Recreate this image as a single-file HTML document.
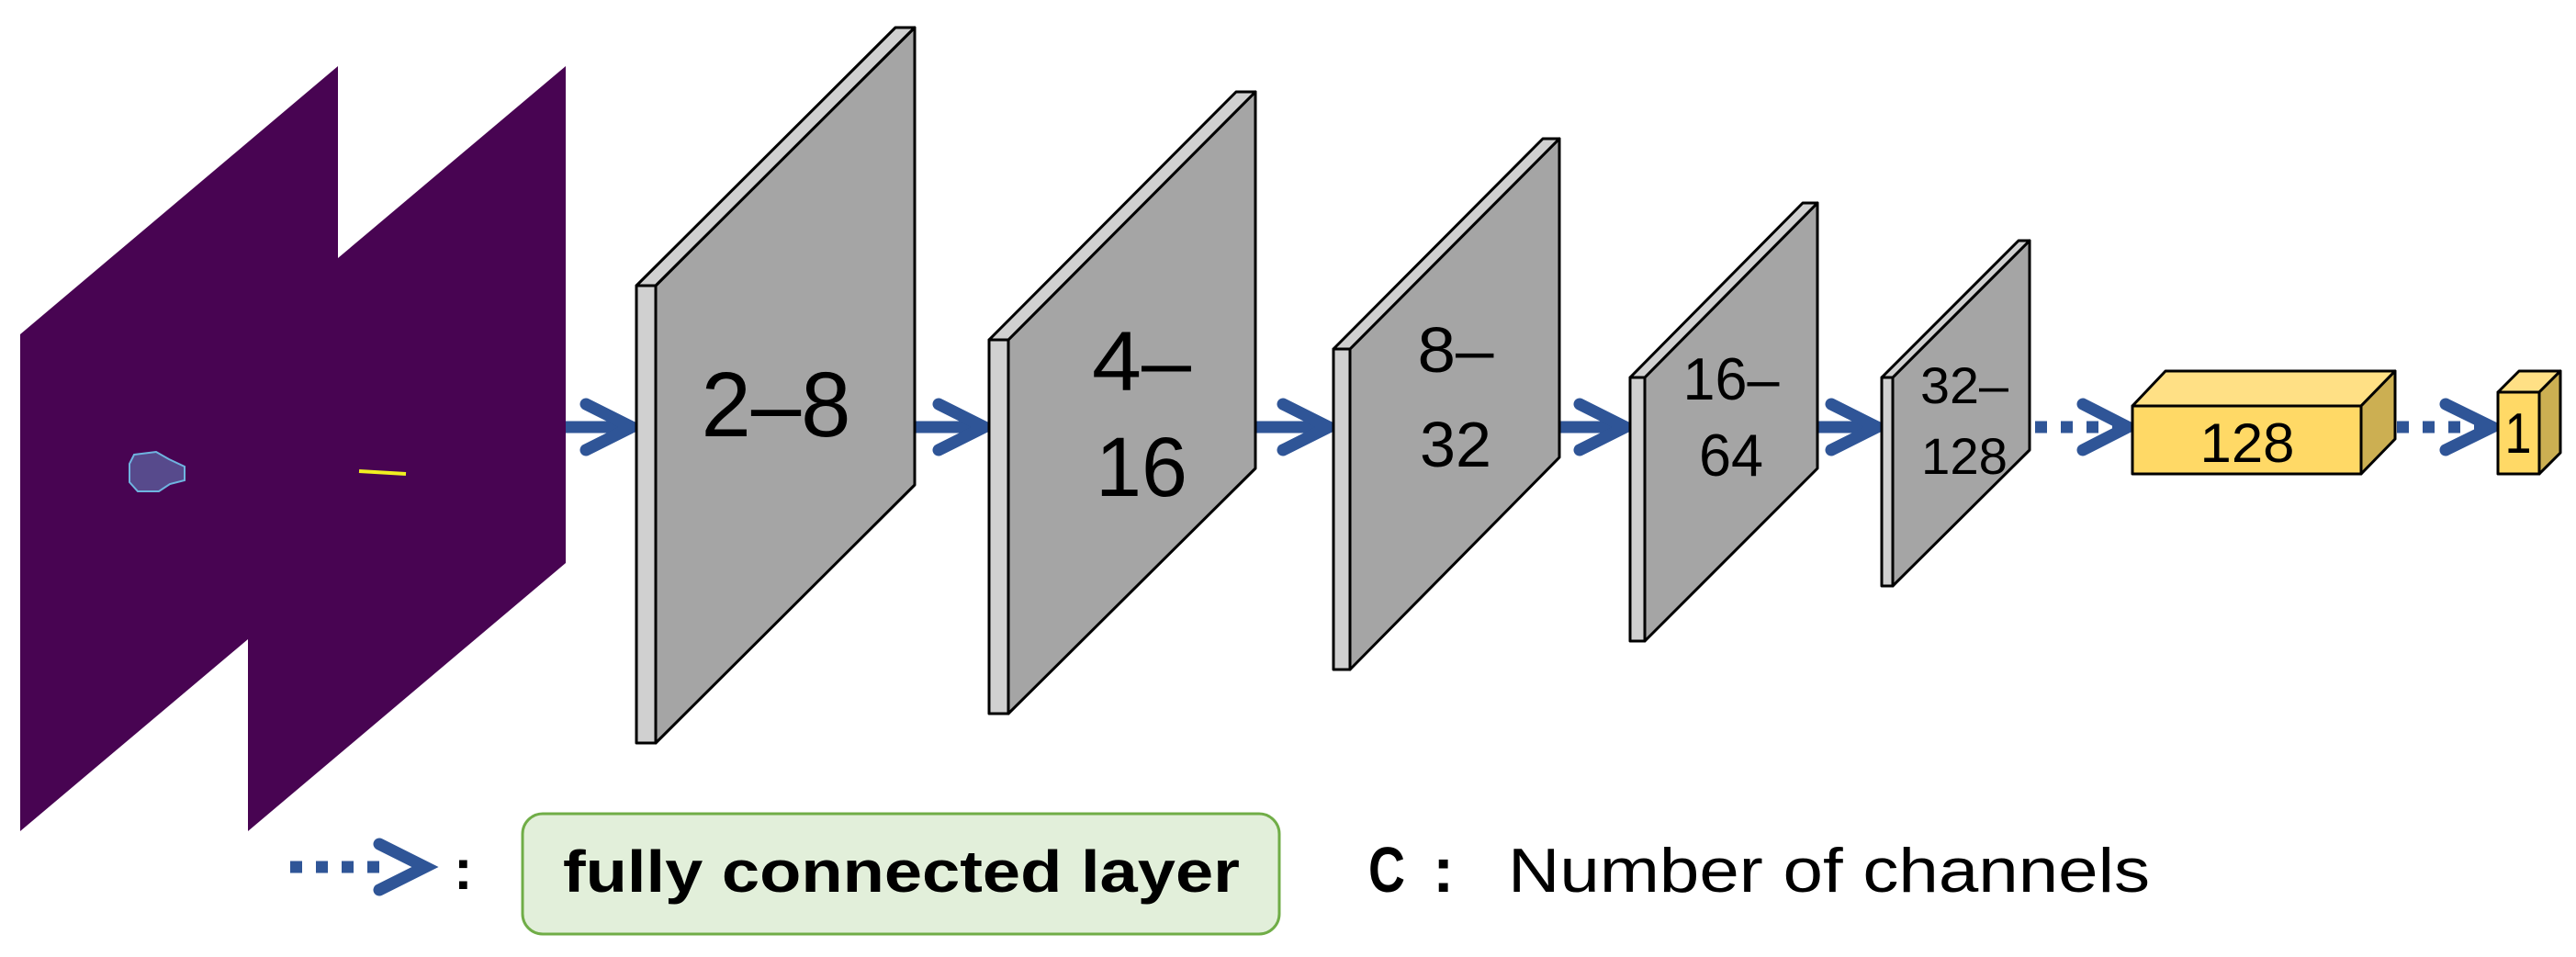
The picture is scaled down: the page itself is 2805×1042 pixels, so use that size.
<!DOCTYPE html>
<html><head><meta charset="utf-8"><style>html,body{margin:0;padding:0;background:#fff}svg{display:block}</style></head>
<body>
<svg width="2805" height="1042" viewBox="0 0 2805 1042" xmlns="http://www.w3.org/2000/svg" font-family="'Liberation Sans', sans-serif">
<polygon points="22,364 368,72 368,281 616,72 616,613 270,905 270,696 22,905" fill="#480452"/>
<path d="M146,495 L170,492 L184,500 L201,508 L201,523 L185,527 L173,535 L150,535 L141,525 L141,505 Z" fill="#574a8c" stroke="#6fb4e0" stroke-width="2"/>
<line x1="391" y1="513" x2="442" y2="516" stroke="#f0f020" stroke-width="4"/>
<g fill="none" stroke="#2f5597" stroke-width="13" stroke-linecap="round" stroke-linejoin="miter">
<line x1="616" y1="465" x2="688" y2="465" stroke-linecap="butt"/><polyline points="638,440 688,465 638,490"/>
<line x1="996" y1="465" x2="1072" y2="465" stroke-linecap="butt"/><polyline points="1022,440 1072,465 1022,490"/>
<line x1="1367" y1="465" x2="1447" y2="465" stroke-linecap="butt"/><polyline points="1397,440 1447,465 1397,490"/>
<line x1="1698" y1="465" x2="1770" y2="465" stroke-linecap="butt"/><polyline points="1720,440 1770,465 1720,490"/>
<line x1="1979" y1="465" x2="2044" y2="465" stroke-linecap="butt"/><polyline points="1994,440 2044,465 1994,490"/>
<line x1="2216" y1="465" x2="2312" y2="465" stroke-linecap="butt" stroke-dasharray="13,15"/><polyline points="2268,440 2317,465 2268,490"/>
<line x1="2610" y1="465" x2="2712" y2="465" stroke-linecap="butt" stroke-dasharray="13,15"/><polyline points="2663,440 2714,465 2663,490"/>
<line x1="316" y1="944" x2="420" y2="944" stroke-linecap="butt" stroke-dasharray="13,15"/><polyline points="413,919 463,944 413,969"/>
</g>
<g stroke="#000" stroke-width="3" stroke-linejoin="round">
<polygon points="714,311 996,30 996,528 714,809" fill="#a5a5a5"/><rect x="693" y="311" width="21" height="498" fill="#d0d0d0"/><polygon points="693,311 975,30 996,30 714,311" fill="#d0d0d0"/>
<polygon points="1098,370 1367,100 1367,510 1098,777" fill="#a5a5a5"/><rect x="1077" y="370" width="21" height="407" fill="#d0d0d0"/><polygon points="1077,370 1346,100 1367,100 1098,370" fill="#d0d0d0"/>
<polygon points="1470,380 1698,151 1698,498 1470,729" fill="#a5a5a5"/><rect x="1452" y="380" width="18" height="349" fill="#d0d0d0"/><polygon points="1452,380 1680,151 1698,151 1470,380" fill="#d0d0d0"/>
<polygon points="1791,411 1979,221 1979,510 1791,698" fill="#a5a5a5"/><rect x="1775" y="411" width="16" height="287" fill="#d0d0d0"/><polygon points="1775,411 1963,221 1979,221 1791,411" fill="#d0d0d0"/>
<polygon points="2061,411 2210,262 2210,490 2061,638" fill="#a5a5a5"/><rect x="2049" y="411" width="12" height="227" fill="#d0d0d0"/><polygon points="2049,411 2198,262 2210,262 2061,411" fill="#d0d0d0"/>
<rect x="2322" y="442" width="249" height="74" fill="#ffd966"/><polygon points="2322,442 2358,404 2608,404 2571,442" fill="#ffe085"/><polygon points="2571,442 2608,404 2608,478 2571,516" fill="#ccaf52"/>
<rect x="2720" y="427" width="45" height="89" fill="#ffd966"/><polygon points="2720,427 2743,404 2788,404 2765,427" fill="#ffe085"/><polygon points="2765,427 2788,404 2788,493 2765,516" fill="#ccaf52"/>
</g>
<g fill="#000" text-anchor="middle">
<text x="845" y="475" font-size="100" textLength="163" lengthAdjust="spacingAndGlyphs">2–8</text>
<text x="1243" y="425" font-size="92" textLength="108" lengthAdjust="spacingAndGlyphs">4–</text>
<text x="1243" y="540" font-size="92" textLength="100" lengthAdjust="spacingAndGlyphs">16</text>
<text x="1585" y="405" font-size="70" textLength="83" lengthAdjust="spacingAndGlyphs">8–</text>
<text x="1585" y="508" font-size="70" textLength="78" lengthAdjust="spacingAndGlyphs">32</text>
<text x="1885" y="435" font-size="65" textLength="105" lengthAdjust="spacingAndGlyphs">16–</text>
<text x="1885" y="518" font-size="65" textLength="70" lengthAdjust="spacingAndGlyphs">64</text>
<text x="2139" y="439" font-size="56" textLength="96" lengthAdjust="spacingAndGlyphs">32–</text>
<text x="2139" y="516" font-size="56" textLength="94" lengthAdjust="spacingAndGlyphs">128</text>
<text x="2447" y="503" font-size="60" textLength="103" lengthAdjust="spacingAndGlyphs">128</text>
<text x="2742" y="493" font-size="62" textLength="29" lengthAdjust="spacingAndGlyphs">1</text>
</g>
<text x="494" y="968" font-size="62" font-weight="bold">:</text>
<rect x="569" y="886" width="824" height="131" rx="22" fill="#e2efda" stroke="#70ad47" stroke-width="3"/>
<text x="613" y="971" font-size="64" font-weight="bold" textLength="737" lengthAdjust="spacingAndGlyphs">fully connected layer</text>
<text x="1490" y="971" font-size="70" font-weight="bold" textLength="40" lengthAdjust="spacingAndGlyphs">C</text>
<text x="1560" y="971" font-size="70" font-weight="bold">:</text>
<text x="1642" y="971" font-size="68" textLength="699" lengthAdjust="spacingAndGlyphs">Number of channels</text>
</svg>
</body></html>
